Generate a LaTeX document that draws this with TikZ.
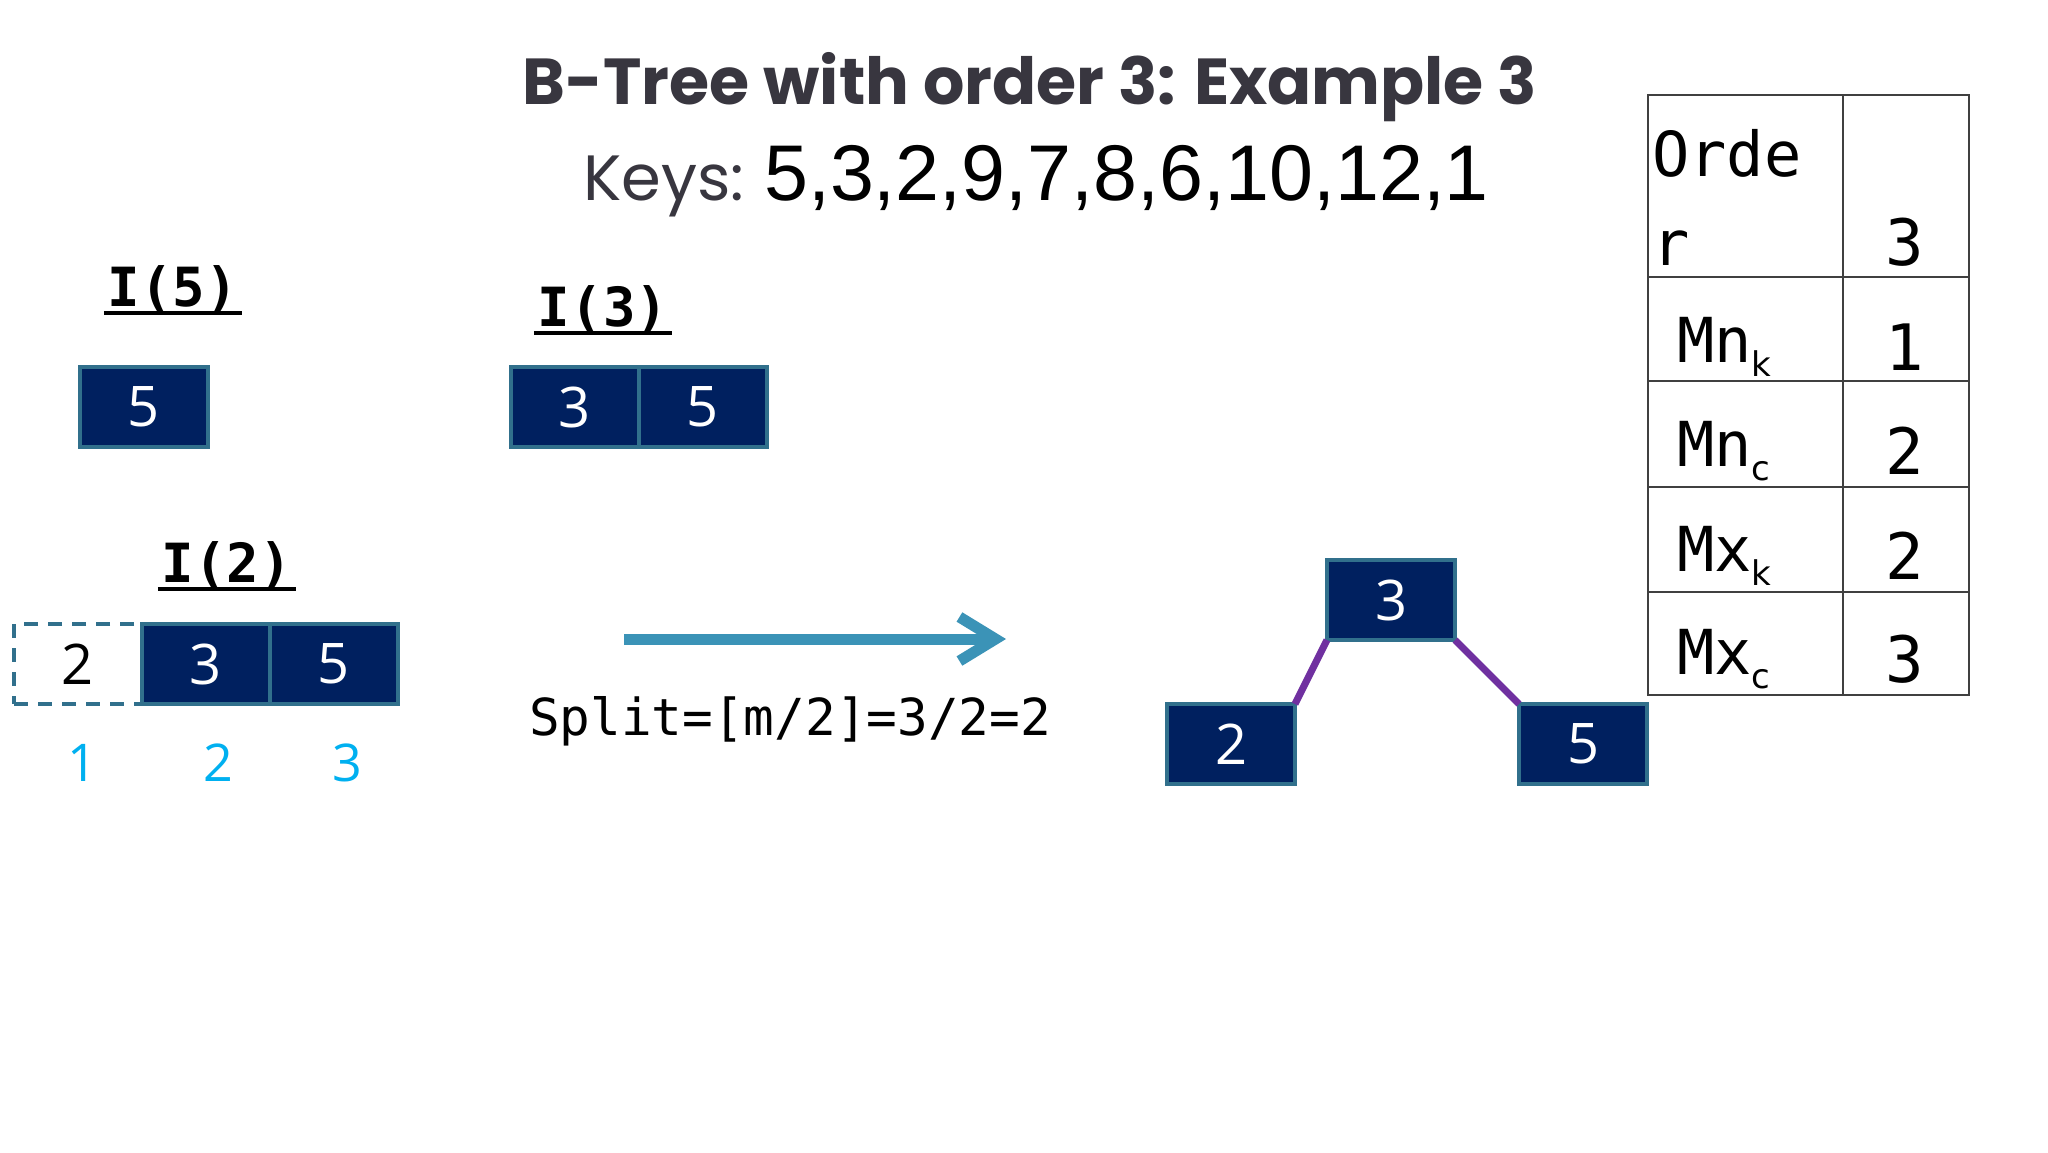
\documentclass[tikz,border=0pt]{standalone}
\usepackage{fontspec}
\setmainfont{Open Sans}
\setsansfont{DejaVu Sans}
\setmonofont{DejaVu Sans Mono}
\newfontfamily\headfont{Poppins}
\newfontfamily\keynumfont{Liberation Sans}
\usetikzlibrary{arrows.meta,positioning}
\definecolor{btNavy}{HTML}{00205F}
\definecolor{btTeal}{HTML}{31708C}
\definecolor{btArrow}{HTML}{3B93B7}
\definecolor{btPurple}{HTML}{7030A0}
\definecolor{btIndex}{HTML}{00B0F0}
\definecolor{btHead}{HTML}{38363F}
\definecolor{btRule}{HTML}{404040}
\tikzset{
 slide/.style={x=1pt,y=-1pt,line join=miter},
 key/.style={rectangle,draw=btTeal,fill=btNavy,line width=4pt,text=white,inner sep=0pt,outer sep=0pt,
   minimum width=128pt,minimum height=80pt,font=\fontsize{56}{56}\selectfont},
 newkey/.style={key,fill=white,text=black,dash pattern=on 14pt off 10pt},
 insertlabel/.style={font=\ttfamily\bfseries\fontsize{54}{54}\selectfont,inner sep=0pt,anchor=base},
 uline/.style={draw=black,line width=4pt},
 slot/.style={font=\fontsize{52}{52}\selectfont,text=btIndex,inner sep=0pt,anchor=base},
 treeedge/.style={draw=btPurple,line width=7pt},
 splitarrow/.style={draw=btArrow,line width=11pt,-{Straight Barb[length=36pt,width=44pt]}},
 splitnote/.style={font=\ttfamily\fontsize{51}{51}\selectfont,inner sep=0pt,anchor=base},
 tabrule/.style={draw=btRule,line width=2pt},
 tabtext/.style={font=\ttfamily\fontsize{62}{89}\selectfont,inner sep=0pt,anchor=base west,align=left},
 tabval/.style={font=\ttfamily\fontsize{64}{64}\selectfont,inner sep=0pt,anchor=base}
}
\newcommand{\tabsub}[1]{\raisebox{-14pt}{\sffamily\fontsize{34}{34}\selectfont #1}}

\begin{document}
\begin{tikzpicture}[slide]
 \fill[white] (0,0) rectangle (2048,1152);
 \useasboundingbox (0,0) rectangle (2048,1152);
 % heading
 \node[anchor=base,inner sep=0pt,text=btHead,font=\headfont\bfseries\fontsize{65}{65}\selectfont] (title) at (1030,104) {B-Tree with order 3: Example 3};
 \node[anchor=base,inner sep=0pt] (keys) at (1036,200)
   {{\headfont\color{btHead}\fontsize{64}{64}\selectfont Keys:}\hspace{20pt}{\keynumfont\fontsize{79}{79}\selectfont 5,3,2,9,7,8,6,10,12,1}};
 % insert 5
 \node[insertlabel] (h5) at (173,306) {I(5)};
 \draw[uline] ([xshift=-4pt,yshift=-7pt]h5.base west) -- ([xshift=4pt,yshift=-7pt]h5.base east);
 \node[key] (i5a) at (144,407) {5};
 % insert 3
 \node[insertlabel] (h3) at (603,326) {I(3)};
 \draw[uline] ([xshift=-4pt,yshift=-7pt]h3.base west) -- ([xshift=4pt,yshift=-7pt]h3.base east);
 \node[key] (i3a) at (575,407) {3};
 \node[key,right=0pt of i3a] (i3b) {5};
 % insert 2
 \node[insertlabel] (h2) at (227,582) {I(2)};
 \draw[uline] ([xshift=-4pt,yshift=-7pt]h2.base west) -- ([xshift=4pt,yshift=-7pt]h2.base east);
 \node[newkey] (i2a) at (78,664) {2};
 \node[key,right=0pt of i2a] (i2b) {3};
 \node[key,right=0pt of i2b] (i2c) {5};
 \node[slot] (s1) at (82,781) {1};
 \node[slot] (s2) at (218,781) {2};
 \node[slot] (s3) at (347,781) {3};
 % split
 \coordinate (from) at (624,639);
 \coordinate (to) at (1006,639);
 \draw[splitarrow] (from) -- (to);
 \node[splitnote] (split) at (790,735) {Split=[m/2]=3/2=2};
 % result tree
 \node[key] (root) at (1391,600) {3};
 \node[key] (lchild) at (1231,744) {2};
 \node[key] (rchild) at (1583,744) {5};
 \draw[treeedge] (root.south west) -- (lchild.north east);
 \draw[treeedge] (root.south east) -- (rchild.north west);
 % order table
 \draw[tabrule] (1648,95) rectangle (1969,695);
 \draw[tabrule] (1843,95) -- (1843,695);
 \foreach \y in {277,381,487,592}
   \draw[tabrule] (1648,\y) -- (1969,\y);
 \node[tabtext] (ord) at (1652,265) {Orde\\r};
 \node[tabval] (ordv) at (1905,265) {3};
 \node[tabtext] (mnk) at (1677,362) {Mn\tabsub{k}};
 \node[tabval] (mnkv) at (1905,370) {1};
 \node[tabtext] (mnc) at (1677,466) {Mn\tabsub{c}};
 \node[tabval] (mncv) at (1905,474) {2};
 \node[tabtext] (mxk) at (1677,571) {Mx\tabsub{k}};
 \node[tabval] (mxkv) at (1905,579) {2};
 \node[tabtext] (mxc) at (1677,674) {Mx\tabsub{c}};
 \node[tabval] (mxcv) at (1905,682) {3};
\end{tikzpicture}
\end{document}
